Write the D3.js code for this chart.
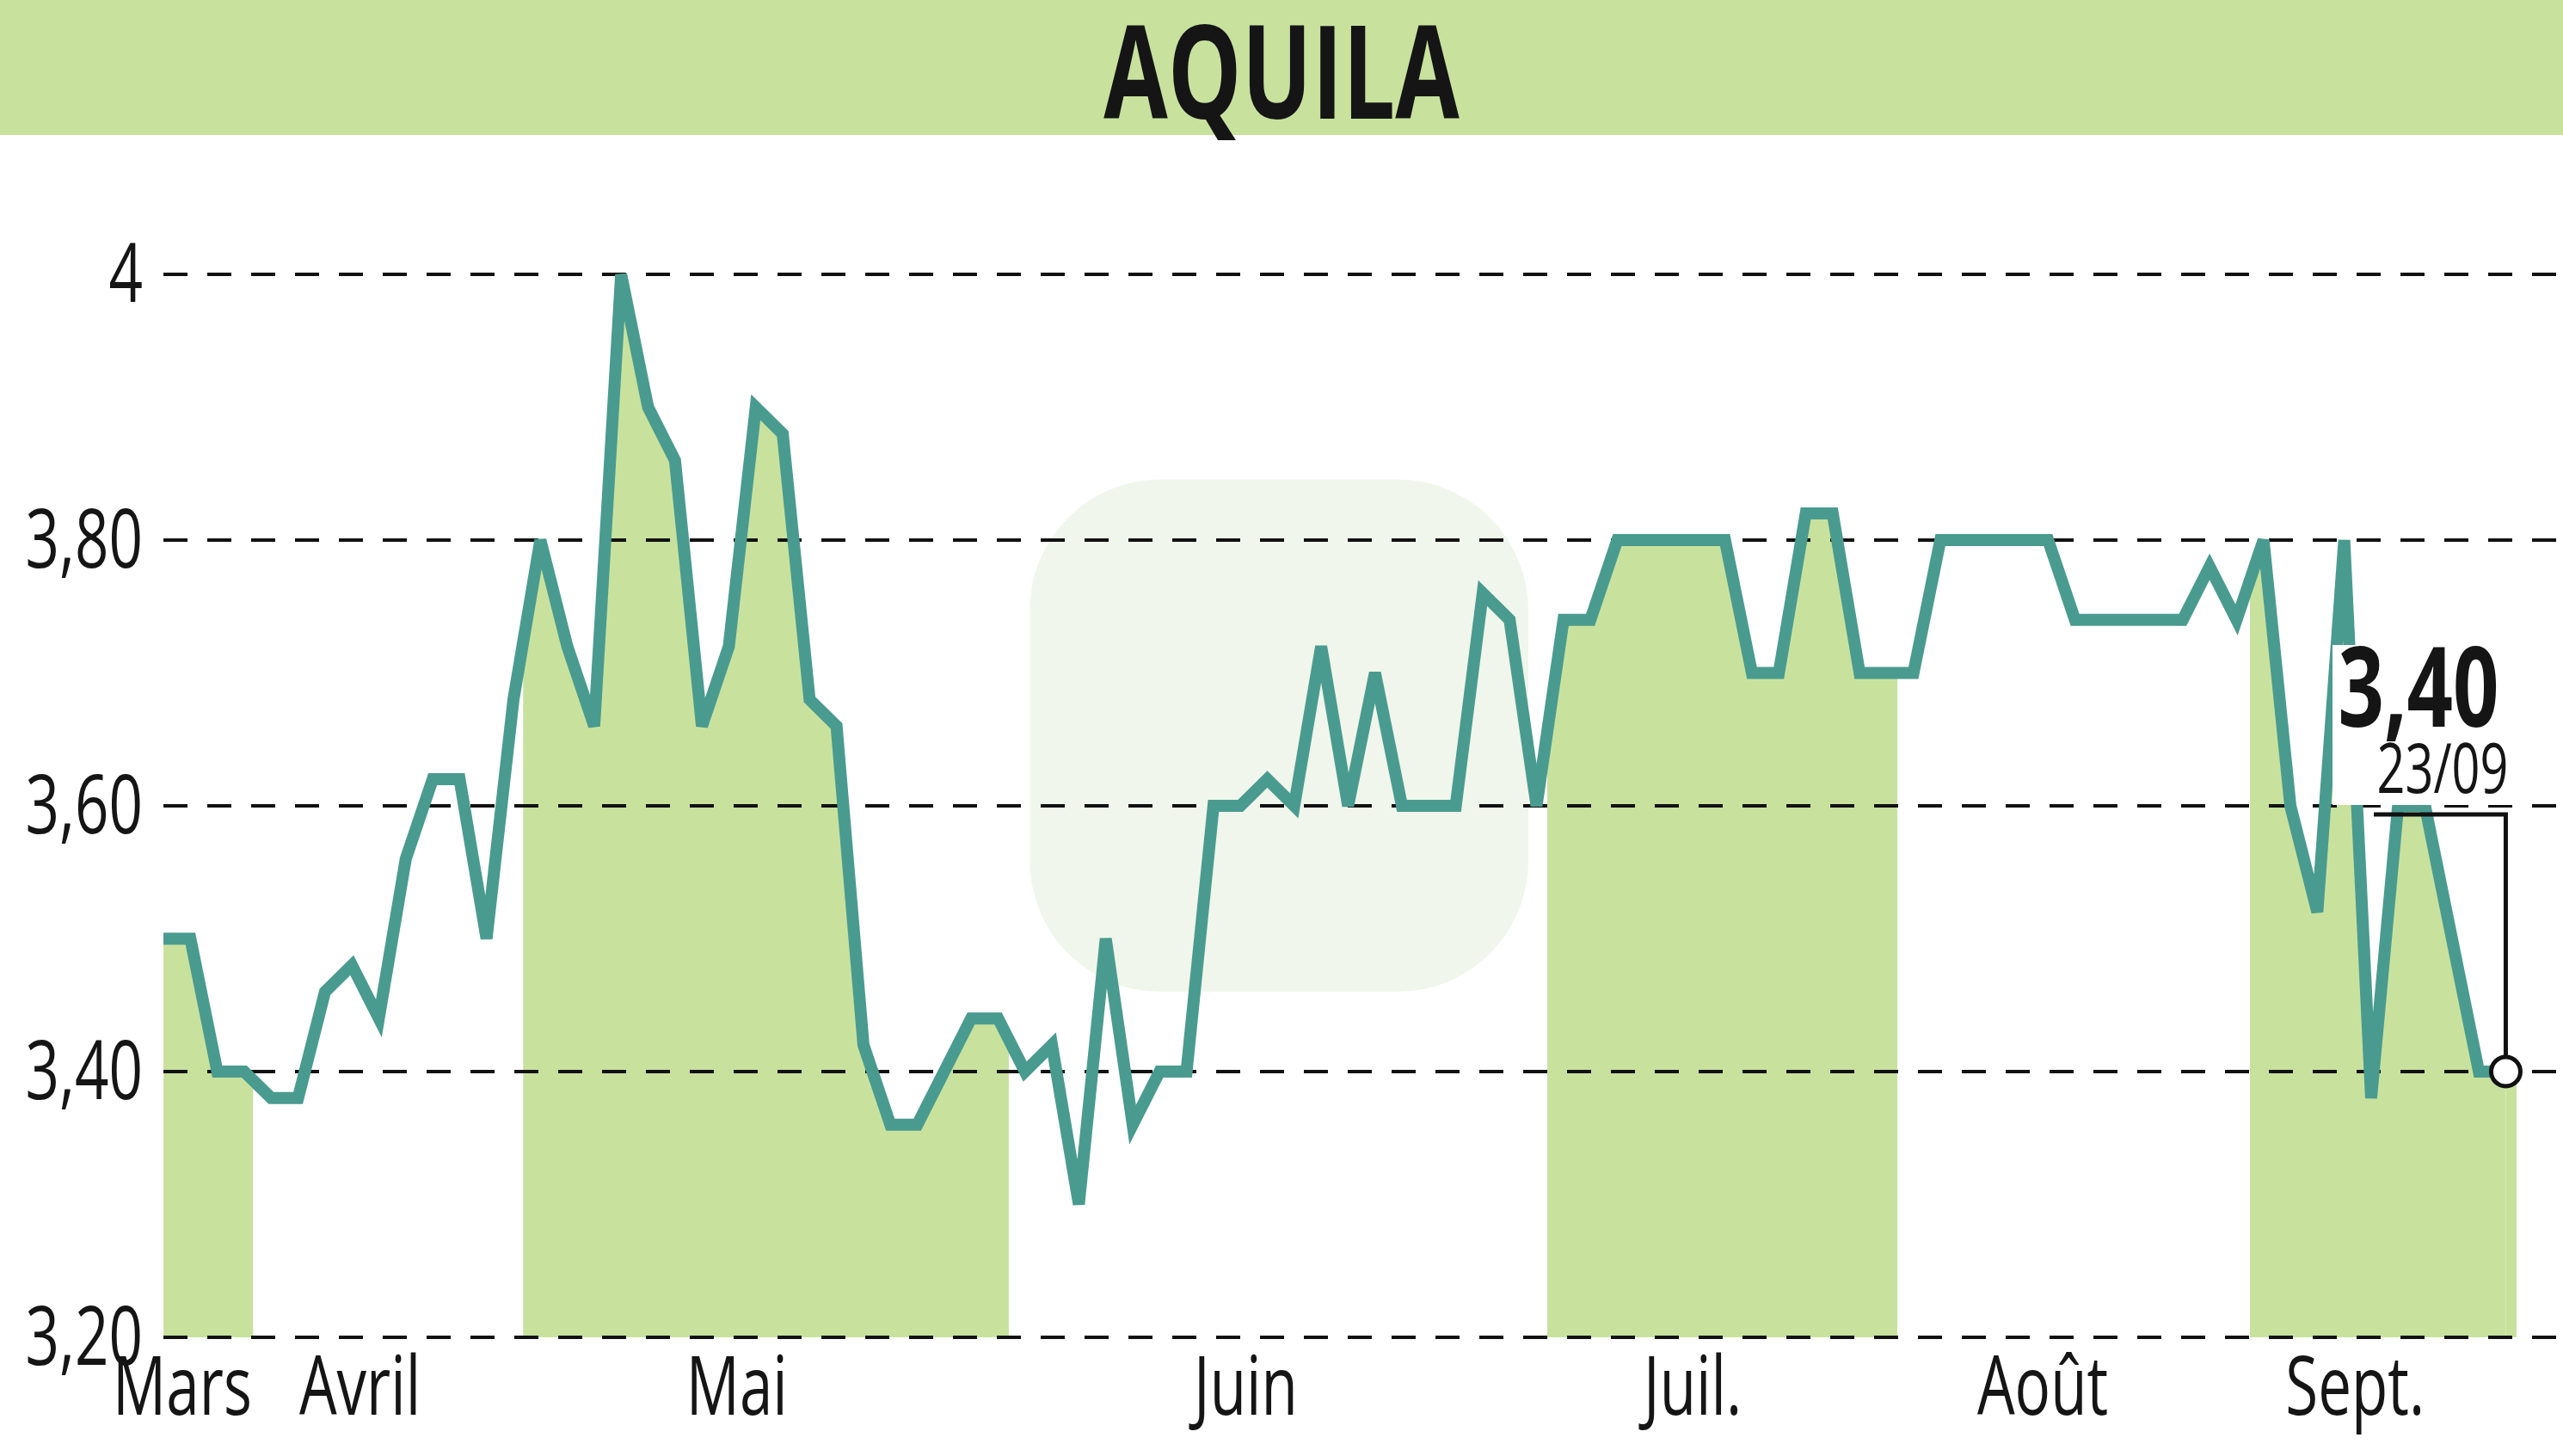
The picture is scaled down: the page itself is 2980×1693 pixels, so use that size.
<!DOCTYPE html>
<html><head><meta charset="utf-8">
<script src="https://cdn.jsdelivr.net/npm/d3@7"></script>
<style>body{margin:0;background:#fff}</style></head>
<body><svg id="c" width="2980" height="1693"></svg>
<script>
const title = "AQUILA";
const values = [3.50,3.50,3.40,3.40,3.38,3.38,3.46,3.48,3.44,3.56,3.62,3.62,3.50,3.68,3.80,3.72,3.66,4.00,3.90,3.86,3.66,3.72,3.90,3.88,3.68,3.66,3.42,3.36,3.36,3.40,3.44,3.44,3.40,3.42,3.30,3.50,3.36,3.40,3.40,3.60,3.60,3.62,3.60,3.72,3.60,3.70,3.60,3.60,3.60,3.76,3.74,3.60,3.74,3.74,3.80,3.80,3.80,3.80,3.80,3.70,3.70,3.82,3.82,3.70,3.70,3.70,3.80,3.80,3.80,3.80,3.80,3.74,3.74,3.74,3.74,3.74,3.78,3.74,3.80,3.60,3.52,3.80,3.38,3.60,3.60,3.50,3.40,3.40];
const yTicks = [3.20,3.40,3.60,3.80,4.00];
const yTickLabels = ["3,20","3,40","3,60","3,80","4"];
const months = ["Mars","Avril","Mai","Juin","Juil.","Août","Sept."];
const monthPos = [0.7,7.3,21.3,40.2,56.8,69.8,81.4];
const bandStart = [0,13.36,51.4,77.5];
const bandEnd = [3.33,31.4,64.4,87.4];
const lastLabel = "3,40", lastDate = "23/09";

const svg = d3.select("#c");
const sx = 1.9005, sy = 1.922;
const x = d3.scaleLinear().domain([0, values.length-1]).range([100*sx, 1533*sx]);
const y = d3.scaleLinear().domain([3.2, 4.0]).range([809*sy, 166*sy]);
const green = "#c8e29e", teal = "#4a9b8f";
const FONT = "'Open Sans','DejaVu Sans',sans-serif";
const SQ = 0.72;
function txt(xp, yp, s, size, anchor, weight){
  return svg.append("text").attr("transform",`translate(${xp},${yp}) scale(${SQ},1)`)
    .attr("text-anchor",anchor).attr("font-family",FONT).attr("font-weight",weight||"normal")
    .attr("font-size",size).attr("fill","#151515").text(s);
}

svg.append("rect").attr("x",0).attr("y",0).attr("width",2980).attr("height",157).attr("fill",green);
txt(1490,138,title,150,"middle","bold");

// watermark
svg.append("rect").attr("x",630*sx).attr("y",290*sy).attr("width",305*sx).attr("height",310*sy)
  .attr("rx",80*sx).attr("fill","#e6f0de").attr("opacity",0.6);

const defs = svg.append("defs");
const lastI = values.length-1;
bandStart.forEach((b,i)=>{
  defs.append("clipPath").attr("id","cl"+i).append("rect")
    .attr("x",x(b)).attr("y",0).attr("width",x(bandEnd[i])-x(b)).attr("height",1693);
  svg.append("path").attr("clip-path","url(#cl"+i+")").attr("fill",green)
    .attr("d",d3.area().x((d,j)=>x(j)).y0(y(3.2)).y1(d=>y(d))(values));
  if(bandEnd[i]>lastI){
    svg.append("rect").attr("x",x(lastI)).attr("y",y(values[lastI]))
      .attr("width",x(bandEnd[i])-x(lastI)).attr("height",y(3.2)-y(values[lastI])).attr("fill",green);
  }
});

yTicks.forEach((t,i)=>{
  svg.append("line").attr("x1",190).attr("x2",2980).attr("y1",y(t)).attr("y2",y(t))
    .attr("stroke","#111").attr("stroke-width",4).attr("stroke-dasharray","28,23");
  txt(166,y(t)+32,yTickLabels[i],96,"end");
});

svg.append("path").datum(values).attr("fill","none").attr("stroke",teal).attr("stroke-width",14)
  .attr("stroke-linejoin","miter").attr("d",d3.line().x((d,j)=>x(j)).y(d=>y(d)));

months.forEach((m,i)=>{ txt(x(monthPos[i]),1645,m,96,"middle"); });

const lx = x(lastI), ly = y(values[lastI]);
svg.append("rect").attr("x",2712).attr("y",750).attr("width",215).attr("height",186).attr("fill","#fff");
svg.append("path").attr("d",`M${2760},${y(3.6)+10}H${lx}V${ly}`).attr("fill","none").attr("stroke","#111").attr("stroke-width",5);
txt(2812,845,lastLabel,130,"middle","bold");
txt(2840,922,lastDate,80,"middle");
svg.append("circle").attr("cx",lx).attr("cy",ly).attr("r",17).attr("fill","#fff").attr("stroke","#111").attr("stroke-width",5);
</script></body></html>
